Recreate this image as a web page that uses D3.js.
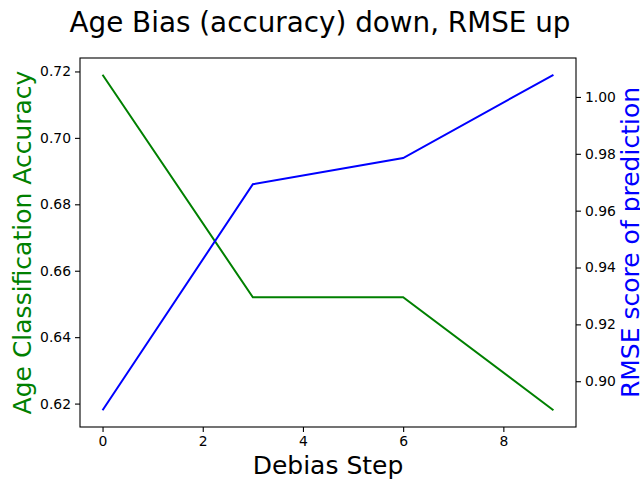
<!DOCTYPE html>
<html><head><meta charset="utf-8">
<script src="https://cdn.jsdelivr.net/npm/d3@7"></script>
<style>body{margin:0;background:#fff}svg{display:block}text{font-family:"DejaVu Sans",sans-serif}</style>
</head><body>
<svg id="c" width="640" height="480"></svg>
<script>
const steps = [0, 3, 6, 9];
const accuracy = [0.719, 0.652, 0.652, 0.618];
const rmse = [0.8898, 0.9693, 0.9785, 1.0078];
const xTicks = [0, 2, 4, 6, 8];
const leftTicks = [0.62, 0.64, 0.66, 0.68, 0.70, 0.72];
const rightTicks = [0.90, 0.92, 0.94, 0.96, 0.98, 1.00];

const svg = d3.select("#c");
const L = 80, R = 576, T = 58, B = 427;
function pad(ext){const r=ext[1]-ext[0];return [ext[0]-0.05*r, ext[1]+0.05*r];}
const x = d3.scaleLinear().domain(pad(d3.extent(steps))).range([L, R]);
const yL = d3.scaleLinear().domain(pad(d3.extent(accuracy))).range([B, T]);
const yR = d3.scaleLinear().domain(pad(d3.extent(rmse))).range([B, T]);

function styleAxis(g){
  g.selectAll(".domain").remove();
  g.selectAll(".tick line").attr("stroke","#000").attr("stroke-width",1.1);
  g.selectAll(".tick text").attr("font-size","13.9px").attr("fill","#000").attr("font-family","DejaVu Sans");
}
svg.append("g").attr("transform",`translate(0,${B})`)
  .call(d3.axisBottom(x).tickValues(xTicks).tickFormat(d3.format("d")).tickSize(5).tickPadding(4)).call(styleAxis);
svg.append("g").attr("transform",`translate(${L},0)`)
  .call(d3.axisLeft(yL).tickValues(leftTicks).tickFormat(d3.format(".2f")).tickSize(5).tickPadding(4)).call(styleAxis);
svg.append("g").attr("transform",`translate(${R},0)`)
  .call(d3.axisRight(yR).tickValues(rightTicks).tickFormat(d3.format(".2f")).tickSize(5).tickPadding(4)).call(styleAxis);

svg.append("path").datum(steps.map((s,i)=>[s,accuracy[i]]))
  .attr("fill","none").attr("stroke","green").attr("stroke-width",2)
  .attr("d", d3.line().x(d=>x(d[0])).y(d=>yL(d[1])));
svg.append("path").datum(steps.map((s,i)=>[s,rmse[i]]))
  .attr("fill","none").attr("stroke","blue").attr("stroke-width",2)
  .attr("d", d3.line().x(d=>x(d[0])).y(d=>yR(d[1])));

svg.append("rect").attr("x",L).attr("y",T).attr("width",R-L).attr("height",B-T)
  .attr("fill","none").attr("stroke","#000").attr("stroke-width",1.1);

svg.append("text").attr("x",320).attr("y",32).attr("text-anchor","middle")
  .attr("font-size","27.8px").text("Age Bias (accuracy) down, RMSE up");
svg.append("text").attr("x",(L+R)/2).attr("y",474).attr("text-anchor","middle")
  .attr("font-size","25px").text("Debias Step");
svg.append("text").attr("transform",`translate(31,${(T+B)/2}) rotate(-90)`).attr("text-anchor","middle")
  .attr("font-size","25px").attr("fill","green").text("Age Classification Accuracy");
svg.append("text").attr("transform",`translate(639,${(T+B)/2}) rotate(-90)`).attr("text-anchor","middle")
  .attr("font-size","25px").attr("fill","blue").text("RMSE score of prediction");
</script>
</body></html>
